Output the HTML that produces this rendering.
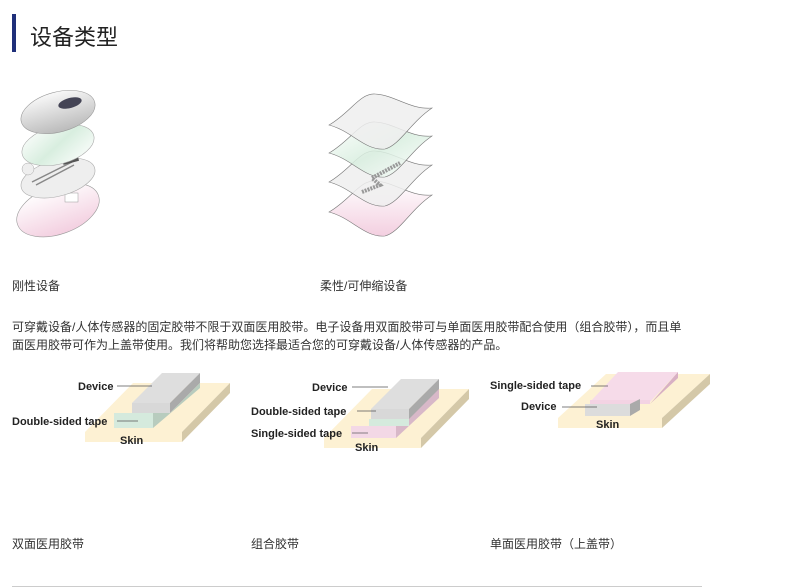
<!DOCTYPE html>
<html><head><meta charset="utf-8"><style>
body{margin:0;width:802px;height:588px;background:#fff;font-family:"Liberation Sans","Noto Sans CJK SC",sans-serif;color:#333;position:relative;overflow:hidden}
.t{position:absolute;font-size:12px;white-space:nowrap}
</style></head><body>
<div style="position:absolute;left:12px;top:14px;width:4px;height:38px;background:#1f2f7a"></div>
<div class="t" style="left:30px;top:20px;font-size:22px;color:#222">设备类型</div>
<div class="t" style="left:12px;top:277px">刚性设备</div>
<div class="t" style="left:320px;top:277px">柔性/可伸缩设备</div>
<div class="t" style="left:12px;top:318px;line-height:18px">可穿戴设备/人体传感器的固定胶带不限于双面医用胶带。电子设备用双面胶带可与单面医用胶带配合使用（组合胶带），而且单<br>面医用胶带可作为上盖带使用。我们将帮助您选择最适合您的可穿戴设备/人体传感器的产品。</div>
<div class="t" style="left:12px;top:535px">双面医用胶带</div>
<div class="t" style="left:251px;top:535px">组合胶带</div>
<div class="t" style="left:490px;top:535px">单面医用胶带（上盖带）</div>
<div style="position:absolute;left:12px;top:586px;width:690px;height:1px;background:#ccc"></div>
<svg width="802" height="588" style="position:absolute;left:0;top:0" font-family="Liberation Sans, sans-serif" font-size="11" font-weight="bold">
<defs>
<linearGradient id="gg" x1="0" y1="0" x2="1" y2="1"><stop offset="0" stop-color="#fff"/><stop offset=".5" stop-color="#d8eedf"/><stop offset="1" stop-color="#fff"/></linearGradient>
<linearGradient id="pg" x1="0" y1="0" x2="0" y2="1"><stop offset="0" stop-color="#fff"/><stop offset="1" stop-color="#f3cfe0"/></linearGradient>
<linearGradient id="wg" x1="0" y1="0" x2="0" y2="1"><stop offset="0" stop-color="#f8f8f8"/><stop offset="1" stop-color="#bbb"/></linearGradient>
</defs>
<!-- rigid -->
<ellipse cx="58" cy="210" rx="43" ry="24" transform="rotate(-20 58 210)" fill="url(#pg)" stroke="#999" stroke-width=".6"/>
<rect x="65" y="193" width="13" height="9" fill="#fff" stroke="#999" stroke-width=".5"/>
<ellipse cx="58" cy="178" rx="38" ry="18" transform="rotate(-15 58 178)" fill="#eee" stroke="#aaa" stroke-width=".6"/>
<circle cx="28" cy="169" r="6" fill="#eee" stroke="#aaa" stroke-width=".5"/>
<path d="M32 182 L72 162 M36 185 L74 165" stroke="#888" stroke-width="1.5"/>
<rect x="62" y="153" width="16" height="10" fill="#555" transform="rotate(-15 70 158)"/>
<ellipse cx="58" cy="145" rx="37" ry="19" transform="rotate(-15 58 145)" fill="url(#gg)" stroke="#aaa" stroke-width=".6"/>
<ellipse cx="58" cy="112" rx="38" ry="20" transform="rotate(-15 58 112)" fill="url(#wg)" stroke="#999" stroke-width=".6"/>
<ellipse cx="70" cy="103" rx="12" ry="5" transform="rotate(-15 70 103)" fill="#445"/>
<!-- flexible -->
<g stroke="#777" stroke-width=".6">
<path id="s" d="M329 212 C350 200 360 180 375 181 C395 182 410 197 432 195 C410 210 400 232 385 236 C365 238 352 218 329 212 Z" fill="url(#pg)"/>
<path d="M329 182 C350 170 360 150 375 151 C395 152 410 167 432 165 C410 180 400 202 385 206 C365 208 352 188 329 182 Z" fill="#eee" fill-opacity=".85"/>
<path d="M329 153 C350 141 360 121 375 122 C395 123 410 138 432 136 C410 151 400 173 385 177 C365 179 352 159 329 153 Z" fill="url(#gg)" fill-opacity=".85"/>
<path d="M329 125 C350 113 360 93 375 94 C395 95 410 110 432 108 C410 123 400 145 385 149 C365 151 352 131 329 125 Z" fill="#eee" fill-opacity=".85"/>
</g>
<path d="M362 192 L380 185 L372 178 L400 163" stroke="#999" stroke-width="4" fill="none" stroke-dasharray="2 1"/>
<!-- diagram 1 -->
<polygon points="85,432 182,432 230,383 133,383" fill="#fdf1d3"/>
<polygon points="182,432 230,383 230,393 182,442" fill="#d4c8a8"/>
<rect x="85" y="432" width="97" height="10" fill="#fdf1d3"/>
<polygon points="132,403 170,403 200,373 162,373" fill="#dedede"/>
<rect x="132" y="403" width="38" height="10" fill="#d8d8d8"/>
<polygon points="170,403 200,373 200,383 170,413" fill="#aaa"/>
<rect x="114" y="413" width="39" height="15" fill="#d5eadd"/>
<polygon points="153,413 170,413 200,383 200,388 153,428" fill="#b8ccbe"/>
<text x="78" y="390" fill="#222">Device</text><line x1="117" y1="386" x2="152" y2="386" stroke="#555" stroke-width=".7"/>
<text x="12" y="425" fill="#222">Double-sided tape</text><line x1="117" y1="421" x2="138" y2="421" stroke="#555" stroke-width=".7"/>
<text x="120" y="444" fill="#222">Skin</text>
<!-- diagram 2 -->
<g transform="translate(239,6)">
<polygon points="85,432 182,432 230,383 133,383" fill="#fdf1d3"/>
<polygon points="182,432 230,383 230,393 182,442" fill="#d4c8a8"/>
<rect x="85" y="432" width="97" height="10" fill="#fdf1d3"/>
<rect x="112" y="420" width="45" height="12" fill="#f3d8e6"/>
<polygon points="157,420 200,380 200,392 157,432" fill="#d8b8c8"/>
<polygon points="132,403 170,403 200,373 162,373" fill="#dedede"/>
<rect x="132" y="403" width="38" height="10" fill="#d8d8d8"/>
<polygon points="170,403 200,373 200,383 170,413" fill="#aaa"/>
<rect x="130" y="413" width="40" height="7" fill="#d5eadd"/>
</g>
<text x="312" y="391" fill="#222">Device</text><line x1="352" y1="387" x2="388" y2="387" stroke="#555" stroke-width=".7"/>
<text x="251" y="415" fill="#222">Double-sided tape</text><line x1="357" y1="411" x2="376" y2="411" stroke="#555" stroke-width=".7"/>
<text x="251" y="437" fill="#222">Single-sided tape</text><line x1="352" y1="433" x2="368" y2="433" stroke="#555" stroke-width=".7"/>
<text x="355" y="451" fill="#222">Skin</text>
<!-- diagram 3 -->
<polygon points="558,418 662,418 710,374 606,374" fill="#fdf1d3"/>
<polygon points="662,418 710,374 710,384 662,428" fill="#d4c8a8"/>
<rect x="558" y="418" width="104" height="10" fill="#fdf1d3"/>
<polygon points="590,402 650,402 678,372 618,372" fill="#f6dbe9"/>
<rect x="590" y="400" width="60" height="4" fill="#f3d3e3"/>
<polygon points="650,404 678,372 678,378 650,404" fill="#d8b0c4"/>
<rect x="585" y="404" width="45" height="12" fill="#dcdcdc"/>
<polygon points="630,404 640,399 640,410 630,416" fill="#aaa"/>
<text x="490" y="389" fill="#222">Single-sided tape</text><line x1="591" y1="386" x2="608" y2="386" stroke="#555" stroke-width=".7"/>
<text x="521" y="410" fill="#222">Device</text><line x1="562" y1="407" x2="597" y2="407" stroke="#555" stroke-width=".7"/>
<text x="596" y="428" fill="#222">Skin</text>
</svg>
</body></html>
